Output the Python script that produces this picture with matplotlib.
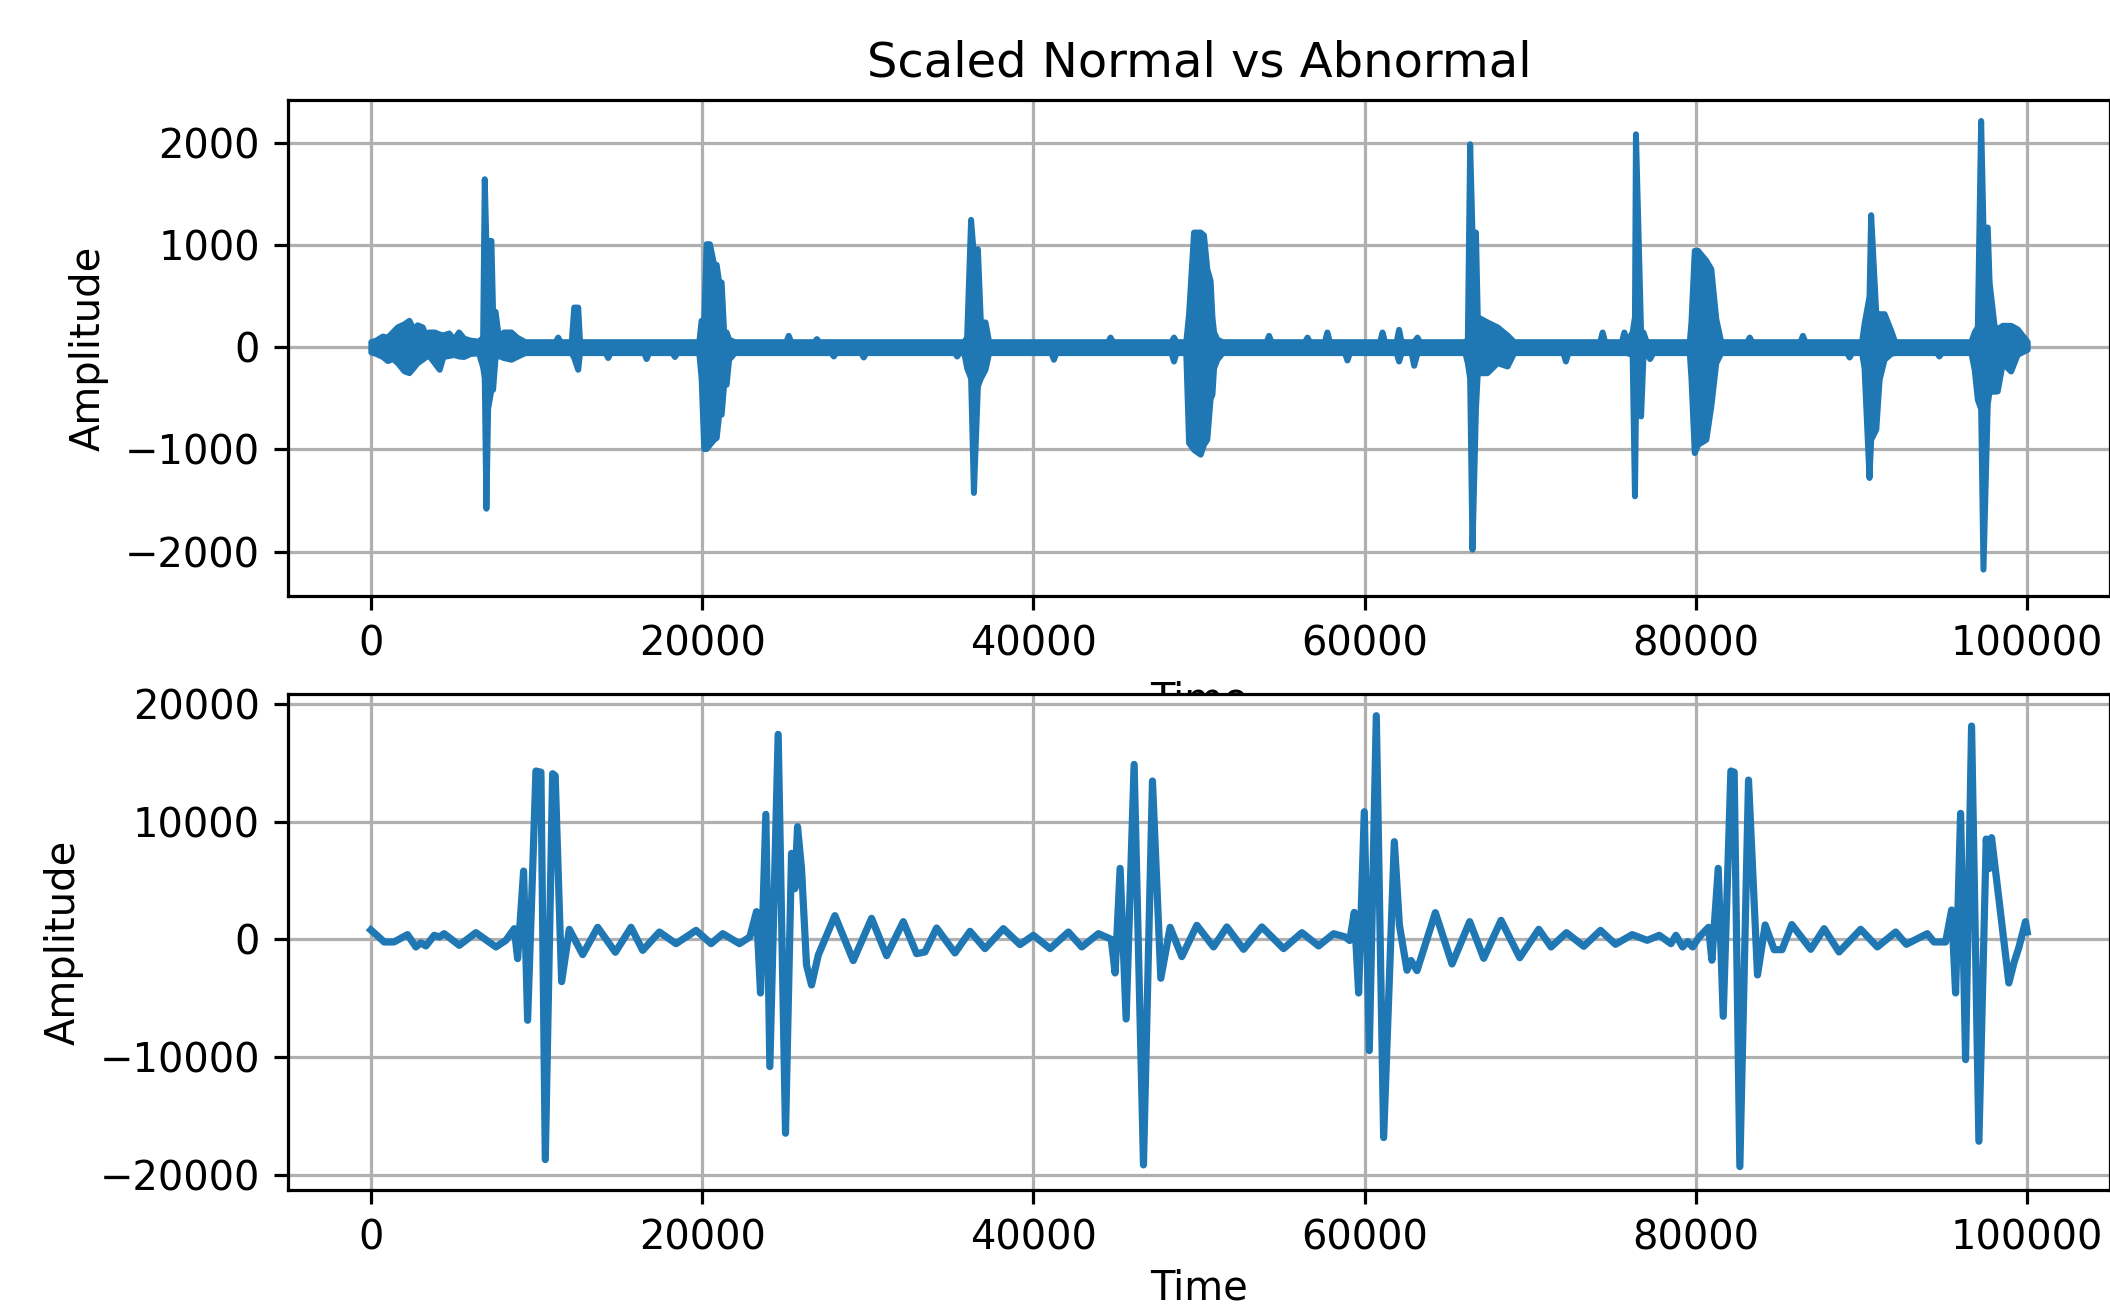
import matplotlib
matplotlib.use('Agg')
import matplotlib.pyplot as plt

#normal recording, read off as an envelope (upper / lower edge of the dense trace)
#one line per stretch of the signal
normalTime = [0, 300, 700, 1000, 1300, 1600, 2000, 2300, 2550, 2800, 3100, 3300, 3500, 3830, 4130, 4350, 4700, 5000, 5300, 5600, 6000, 6500,
              6750, 6848, 6948, 7050, 7250, 7350, 7500, 7700, 8000, 8460, 8800, 9300,
              11130, 11280, 11430, 12100, 12250, 12490, 12600, 14150, 14300, 14450, 16470, 16620, 16770, 18180, 18330, 18480,
              19800, 19940, 20100, 20240, 20440, 20700, 20850, 21000, 21150, 21300, 21450, 21600, 21950,
              25050, 25200, 25350, 26750, 26900, 27050, 27770, 27920, 28070, 29580, 29730, 29880, 35220, 35370, 35520,
              35800, 35970, 36210, 36380, 36620, 36800, 37080, 37300,
              41060, 41210, 41360, 44480, 44630, 44780, 48310, 48460, 48610,
              49200, 49370, 49670, 50070, 50270, 50470, 50670, 50780, 50880, 51080, 51400,
              54050, 54200, 54350, 56370, 56520, 56670, 57570, 57720, 57870, 58780, 58930, 59080, 60900, 61050, 61200, 61900, 62050, 62200, 62810, 62960, 63160, 63310,
              66050, 66200, 66340, 66480, 66690, 66800, 67390, 68000, 68600, 69000,
              71970, 72120, 72270, 74190, 74340, 74490, 75500, 75650, 75800,
              76150, 76290, 76350, 76660, 76800, 77000, 77200, 77400,
              79600, 79700, 79900, 80100, 80600, 80900, 81200, 81500,
              83070, 83220, 83370, 86280, 86430, 86580, 89100, 89250, 89400,
              90000, 90150, 90450, 90550, 90860, 91060, 91360, 91760, 92000,
              94520, 94670, 94820,
              96600, 96800, 96990, 97190, 97330, 97590, 97700, 98000, 98190, 98500, 99000, 99400, 100000]
normalUpper = [55, 70, 110, 100, 150, 200, 230, 264, 180, 220, 200, 120, 150, 150, 130, 120, 140, 80, 150, 90, 70, 60,
               100, 1650, 1000, 1046, 1046, 352, 352, 100, 150, 150, 100, 55,
               55, 100, 55, 55, 394, 394, 55, 55, 55, 55, 55, 55, 55, 55, 55, 55,
               55, 264, 264, 1014, 1014, 812, 812, 639, 639, 150, 150, 80, 55,
               55, 117, 55, 55, 85, 55, 55, 55, 55, 55, 55, 55, 55, 55, 55,
               55, 100, 1252, 900, 965, 248, 248, 55,
               55, 55, 55, 55, 100, 55, 55, 100, 55,
               55, 329, 1128, 1128, 1100, 769, 655, 300, 150, 80, 55,
               55, 117, 55, 55, 100, 55, 55, 150, 55, 55, 55, 55, 55, 150, 55, 55, 176, 55, 55, 55, 100, 55,
               55, 80, 1992, 1128, 1128, 300, 248, 200, 120, 55,
               55, 55, 55, 55, 150, 55, 55, 150, 55,
               150, 300, 2090, 150, 150, 55, 55, 55,
               55, 248, 949, 949, 851, 769, 280, 55,
               55, 100, 55, 55, 117, 55, 55, 55, 55,
               55, 231, 500, 1298, 329, 329, 329, 166, 55,
               55, 55, 55,
               55, 150, 200, 2220, 1177, 1177, 639, 215, 180, 215, 215, 180, 55]
normalLower = [-45, -60, -90, -130, -110, -150, -230, -248, -200, -150, -117, -90, -80, -150, -215, -90, -80, -70, -85, -90, -60, -55,
               -189, -300, -1575, -600, -411, -411, -100, -80, -100, -117, -90, -52,
               -52, -52, -52, -52, -100, -215, -52, -52, -100, -52, -52, -110, -52, -52, -90, -52,
               -52, -300, -991, -991, -950, -900, -883, -655, -655, -362, -362, -117, -52,
               -52, -52, -52, -52, -52, -52, -52, -85, -52, -52, -95, -52, -52, -85, -52,
               -52, -199, -300, -1421, -378, -300, -215, -52,
               -52, -117, -52, -52, -52, -52, -52, -134, -52,
               -52, -932, -1000, -1046, -950, -900, -500, -460, -200, -117, -52,
               -52, -52, -52, -52, -52, -52, -52, -52, -52, -52, -124, -52, -52, -52, -52, -52, -134, -52, -52, -176, -52, -52,
               -52, -150, -300, -1976, -600, -250, -248, -150, -183, -52,
               -52, -134, -52, -52, -52, -52, -52, -52, -52,
               -70, -1454, -600, -672, -100, -52, -110, -52,
               -52, -300, -1030, -950, -900, -574, -150, -52,
               -52, -52, -52, -52, -52, -52, -52, -95, -52,
               -52, -200, -1274, -900, -802, -313, -117, -60, -52,
               -52, -85, -52,
               -52, -215, -509, -600, -2171, -550, -430, -430, -427, -150, -232, -68, -20]

#abnormal recording
abnormalTime = [0, 400, 805, 1400, 2215, 2719, 3020, 3323, 3827, 4130, 4430, 5337, 6344, 7552, 8157, 8660,
                8862, 9224, 9466, 9969, 10270, 10533, 10976, 11130, 11520, 11983, 12790, 13695, 14763, 15709,
                16414, 17421, 18428, 19636, 20543, 21248, 22255, 22881, 23284, 23526, 23848, 24090, 24593,
                25036, 25399, 25600, 25761, 26003, 26305, 26607, 27010, 28017, 29125, 30232, 31139, 32146,
                32951, 33455, 34160, 35267, 36174, 37080, 38188, 39195, 40000, 41007, 42115, 42921, 43928,
                44700, 44935, 45237, 45600, 46083, 46647, 47190, 47694, 48257, 48962, 49869, 50876, 51681,
                52688, 53796, 55105, 56213, 57220, 58126, 58831, 59100, 59375, 59637, 59979, 60281, 60704,
                61147, 61792, 62100, 62557, 62800, 63161, 64269, 65276, 66343, 67189, 68236, 69364, 70512,
                71257, 72184, 73231, 74238, 75145, 76152, 77058, 77789, 78492, 78794, 79196, 79500, 79799,
                80200, 80764, 80965, 81347, 81648, 82111, 82310, 82653, 83176, 83719, 84181, 84724, 85200,
                85789, 86935, 87739, 88643, 89950, 90955, 92060, 92703, 93970, 94372, 95075, 95437, 95678,
                95980, 96281, 96643, 97085, 97527, 97700, 97849, 98291, 98894, 99200, 99497, 99899, 100000]
abnormalAmp = [790, 300, -226, -226, 400, -650, -300, -566, 340, 200, 480, -510, 566, -650, -85, 906,
               -1640, 5800, -6880, 14296, 14200, -18713, 14070, 13900, -3595, 850, -1300, 1020, -1100, 1020,
               -940, 620, -370, 760, -370, 480, -370, 200, 2350, -4560, 10616, -10815, 17410,
               -16476, 7300, 4300, 9570, 6000, -2200, -3880, -1360, 2010, -1810, 1780, -1390, 1500,
               -1220, -1075, 960, -1160, 680, -790, 906, -450, 340, -790, 620, -650, 480,
               0, -2860, 6030, -6770, 14860, -19165, 13450, -3310, 1020, -1470, 1190, -650, 1050,
               -850, 1050, -790, 566, -566, 480, 200, -100, 2290, -4560, 10840, -9455, 19000,
               -16845, 8295, 1200, -2630, -1800, -2660, 2265, -2095, 1500, -1614, 1614, -1560, 850,
               -650, 566, -595, 760, -425, 400, -85, 340, -370, 340, -650, -200, -650,
               200, 1020, -1780, 6030, -6540, 14300, 14200, -19307, 13530, -3030, 1220, -880, -880,
               1250, -850, 906, -1075, 850, -650, 620, -425, 480, -226, -226, 2490, -4560,
               10700, -10220, 18118, -17156, 8520, 6000, 8635, 3450, -3710, -2000, -700, 1500, 620]

dpi = 288
fig = plt.figure(figsize=(2110 / dpi, 1310 / dpi), dpi=dpi)

#top: scaled normal signal (the figure is cut at the right spine, like the original)
ax1 = fig.add_axes([0.1365, 0.545, 0.8635, 0.3786])
ax1.fill_between(normalTime, normalLower, normalUpper, color='C0', linewidth=1.5, zorder=2)
ax1.set_xlim(-5000, 105000)
ax1.set_ylim(-2435, 2420)
ax1.set_title('Scaled Normal vs Abnormal')
ax1.set_xlabel('Time')
ax1.set_ylabel('Amplitude')
ax1.grid(True)

#bottom: abnormal signal, drawn after so it hides the top x label
ax2 = fig.add_axes([0.1365, 0.0914, 0.8635, 0.379])
ax2.plot(abnormalTime, abnormalAmp, color='C0', linewidth=1.8)
ax2.set_xlim(-5000, 105000)
ax2.set_ylim(-21320, 20860)
ax2.set_xlabel('Time', labelpad=2.5)
ax2.set_ylabel('Amplitude')
ax2.grid(True)

fig.savefig('out.png', dpi=dpi)
